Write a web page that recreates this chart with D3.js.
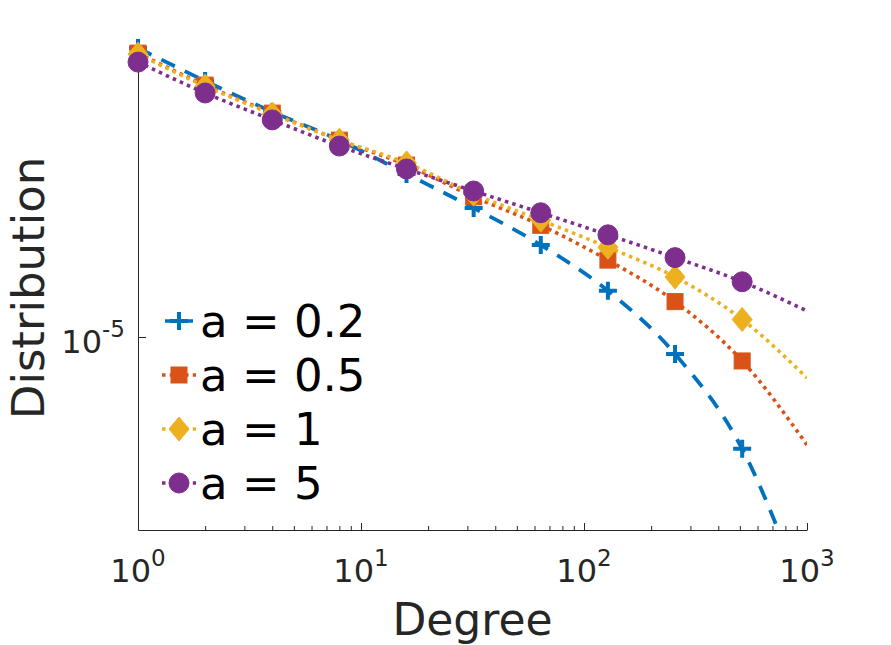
<!DOCTYPE html>
<html>
<head>
<meta charset="utf-8">
<script src="https://cdn.jsdelivr.net/npm/d3@7"></script>
<style>
    body { margin: 0; background: #fff; }
    svg { display: block; font-family: "DejaVu Sans", sans-serif; }
    .axis path, .axis line { stroke: #262626; stroke-width: 1; }
</style>
</head>
<body>
<div id="chart"></div>
<script>
// degrees where curves are sampled (markers on powers of two only)
let degrees = [1, 2, 4, 8, 16, 32, 64, 128, 256, 512, 1000];
let markerDegrees = [1, 2, 4, 8, 16, 32, 64, 128, 256, 512];

let seriesNames = ['a = 0.2', 'a = 0.5', 'a = 1', 'a = 5'];
let valuesA02 = [7.51e-5, 5.97e-5, 4.81e-5, 3.95e-5, 3.12e-5, 2.46e-5, 1.90e-5, 1.38e-5, 8.88e-6, 4.58e-6, 1.54e-6];
let valuesA05 = [7.25e-5, 5.80e-5, 4.77e-5, 3.95e-5, 3.32e-5, 2.66e-5, 2.18e-5, 1.71e-5, 1.28e-5, 8.46e-6, 4.71e-6];
let valuesA1  = [7.20e-5, 5.76e-5, 4.74e-5, 3.95e-5, 3.37e-5, 2.71e-5, 2.26e-5, 1.87e-5, 1.52e-5, 1.13e-5, 7.51e-6];
let valuesA5  = [6.81e-5, 5.49e-5, 4.55e-5, 3.79e-5, 3.23e-5, 2.77e-5, 2.38e-5, 2.04e-5, 1.74e-5, 1.47e-5, 1.20e-5];

let xMajorTicks = [1, 10, 100, 1000];
let xTickExponents = ['0', '1', '2', '3'];
let yMajorTicks = [1e-5];
let yTickExponents = ['-5'];

let xDomain = [1, 1000];
let yDomain = [2.60e-6, 7.62e-5];

let colors = ['#0072BD', '#D95319', '#EDB120', '#7E2F8E'];
let markers = ['plus', 'square', 'diamond', 'circle'];
let dashes = ['15,11', '3.5,4.2', '3.5,4.2', '3.5,4.2'];

let width = 891, height = 645;
let margin = {top: 46, right: 84, bottom: 115, left: 138};
let plotW = width - margin.left - margin.right;
let plotH = height - margin.top - margin.bottom;

let svg = d3.select('#chart').append('svg')
    .attr('width', width)
    .attr('height', height);

let x = d3.scaleLog().domain(xDomain).range([margin.left, margin.left + plotW]);
let y = d3.scaleLog().domain(yDomain).range([margin.top + plotH, margin.top]);

svg.append('clipPath').attr('id', 'plot-clip')
    .append('rect')
    .attr('x', margin.left).attr('y', margin.top - 20)
    .attr('width', plotW).attr('height', plotH + 20);

// minor x ticks
let minorTicks = [];
for (let dec = 1; dec < 1000; dec *= 10) {
    for (let m = 2; m <= 9; m++) minorTicks.push(dec * m);
}
svg.append('g')
    .attr('class', 'axis')
    .attr('transform', 'translate(0,' + (margin.top + plotH) + ')')
    .call(d3.axisBottom(x).tickValues(minorTicks).tickSize(-4).tickSizeOuter(0).tickFormat(''))
    .select('.domain').remove();

svg.append('g')
    .attr('class', 'axis')
    .attr('transform', 'translate(0,' + (margin.top + plotH) + ')')
    .call(d3.axisBottom(x).tickValues(xMajorTicks).tickSize(-7).tickSizeOuter(0).tickFormat(''));

xMajorTicks.forEach(function (v, i) {
    let t = svg.append('text')
        .attr('x', x(v))
        .attr('y', margin.top + plotH + 52)
        .attr('text-anchor', 'middle')
        .attr('fill', '#262626')
        .style('font-size', '32px')
        .text('10');
    t.append('tspan')
        .attr('dy', -16)
        .style('font-size', '23px')
        .text(xTickExponents[i]);
});

svg.append('g')
    .attr('class', 'axis')
    .attr('transform', 'translate(' + margin.left + ',0)')
    .call(d3.axisLeft(y).tickValues(yMajorTicks).tickSize(-8).tickSizeOuter(0).tickFormat(''));

yMajorTicks.forEach(function (v, i) {
    let t = svg.append('text')
        .attr('x', margin.left - 13)
        .attr('y', y(v) + 16)
        .attr('text-anchor', 'end')
        .attr('fill', '#262626')
        .style('font-size', '32px')
        .text('10');
    t.append('tspan')
        .attr('dy', -16)
        .style('font-size', '23px')
        .text(yTickExponents[i]);
});

// axis labels
svg.append('text')
    .attr('x', margin.left + plotW / 2)
    .attr('y', 635)
    .attr('text-anchor', 'middle')
    .attr('fill', '#262626')
    .style('font-size', '44px')
    .text('Degree');

svg.append('text')
    .attr('transform', 'translate(44,' + (margin.top + plotH / 2) + ') rotate(-90)')
    .attr('text-anchor', 'middle')
    .attr('fill', '#262626')
    .style('font-size', '45px')
    .text('Distribution');

function drawMarker(g, type, cx, cy, color) {
    if (type === 'plus') {
        g.append('path')
            .attr('d', 'M' + (cx - 9) + ',' + cy + 'H' + (cx + 9) + 'M' + cx + ',' + (cy - 9) + 'V' + (cy + 9))
            .attr('stroke', color).attr('stroke-width', 4).attr('fill', 'none');
    } else if (type === 'square') {
        g.append('rect')
            .attr('x', cx - 8).attr('y', cy - 8)
            .attr('width', 16).attr('height', 16)
            .attr('fill', color).attr('stroke', color).attr('stroke-width', 1);
    } else if (type === 'diamond') {
        g.append('path')
            .attr('d', 'M' + cx + ',' + (cy - 12) + 'L' + (cx + 10) + ',' + cy + 'L' + cx + ',' + (cy + 12) + 'L' + (cx - 10) + ',' + cy + 'Z')
            .attr('fill', color).attr('stroke', color).attr('stroke-width', 1);
    } else {
        g.append('circle')
            .attr('cx', cx).attr('cy', cy).attr('r', 10)
            .attr('fill', color).attr('stroke', color).attr('stroke-width', 1);
    }
}

let allValues = [valuesA02, valuesA05, valuesA1, valuesA5];
let line = d3.line()
    .x(d => x(d.k))
    .y(d => y(d.v))
    .curve(d3.curveMonotoneX);

allValues.forEach(function (vals, s) {
    let pts = degrees.map((k, i) => ({k: k, v: vals[i]}));
    let g = svg.append('g');
    g.append('path')
        .attr('clip-path', 'url(#plot-clip)')
        .attr('d', line(pts))
        .attr('fill', 'none')
        .attr('stroke', colors[s])
        .attr('stroke-width', s === 0 ? 3.8 : 3.6)
        .attr('stroke-dasharray', dashes[s]);
    pts.filter(p => markerDegrees.indexOf(p.k) >= 0).forEach(function (p) {
        drawMarker(g, markers[s], x(p.k), y(p.v), colors[s]);
    });
});

// legend
let legendX = 162, legendY = 321, legendRow = 54;
seriesNames.forEach(function (name, s) {
    let cy = legendY + s * legendRow;
    let g = svg.append('g');
    g.append('line')
        .attr('x1', legendX).attr('x2', legendX + 34)
        .attr('y1', cy).attr('y2', cy)
        .attr('stroke', colors[s])
        .attr('stroke-width', 3.5)
        .attr('stroke-dasharray', s === 0 ? '0,3,13,2,13,3' : dashes[s]);
    drawMarker(g, markers[s], legendX + 17, cy, colors[s]);
    g.append('text')
        .attr('x', legendX + 38)
        .attr('y', cy + 16)
        .attr('fill', '#000')
        .style('font-size', '45px')
        .text(name);
});
</script>
</body>
</html>
